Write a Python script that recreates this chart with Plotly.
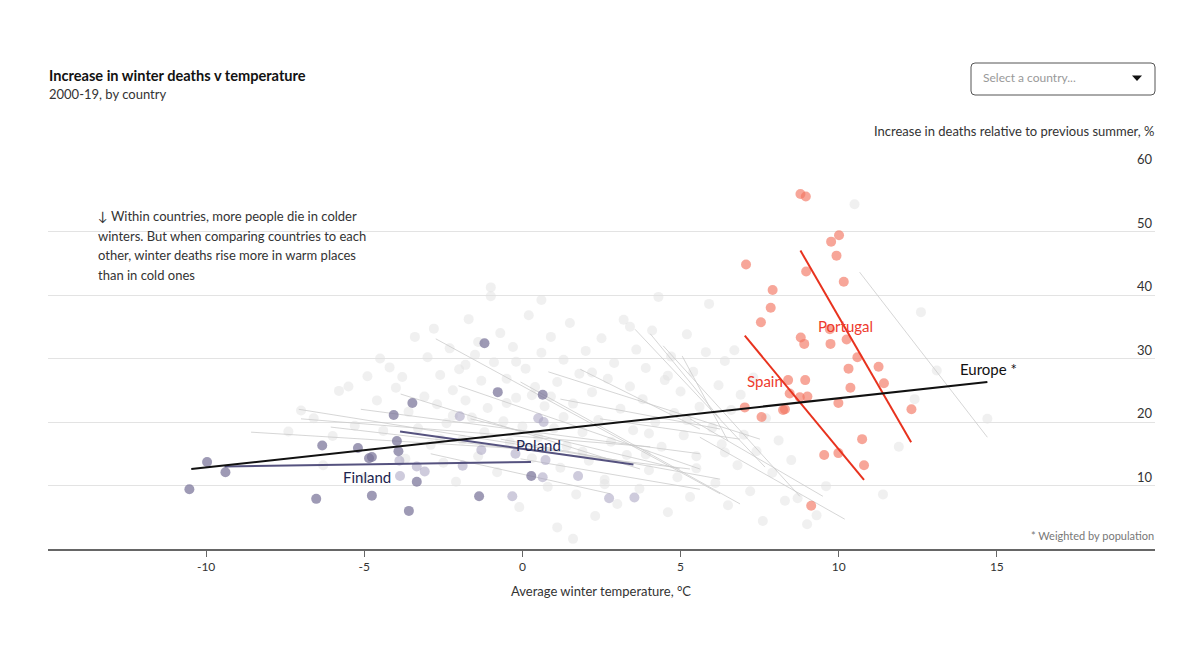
import plotly.graph_objects as go

# ---------------- data ----------------
x_ticks = [-10, -5, 0, 5, 10, 15]
y_ticks = [10, 20, 30, 40, 50, 60]

gray_x = [-7.0, -6.6, -6.3, -6.0, -5.8, -5.5, -5.3, -5.0, -4.9, -4.6, -4.4, -4.2, -4.0, -3.8, -3.6, -3.4,
          -3.3, -3.1, -3.0, -2.9, -2.8, -2.7, -2.6, -2.5, -2.4, -2.3, -2.2, -2.1, -2.0, -1.9, -1.8, -1.7,
          -1.6, -1.5, -1.4, -1.3, -1.2, -1.1, -1.0, -1.0, -0.9, -0.8, -0.7, -0.6, -0.5, -0.4, -0.3, -0.2,
          -0.1, 0.0, 0.1, 0.2, 0.3, 0.4, 0.5, 0.6, 0.6, 0.7, 0.8, 0.9, 1.0, 1.1, 1.1, 1.2, 1.3, 1.4,
          1.5, 1.6, 1.6, 1.7, 1.8, 1.9, 2.0, 2.1, 2.2, 2.3, 2.4, 2.5, 2.6, 2.7, 2.8, 2.9, 3.0, 3.1,
          3.2, 3.3, 3.4, 3.5, 3.6, 3.7, 3.8, 3.9, 4.0, 4.1, 4.2, 4.3, 4.4, 4.5, 4.6, 4.7, 4.8, 4.9,
          5.0, 5.1, 5.2, 5.3, 5.4, 5.5, 5.6, 5.8, 5.9, 6.0, 6.1, 6.2, 6.3, 6.4, 6.5, 6.6, 6.7, 6.8,
          6.9, 7.0, 7.2, 7.3, 7.4, 7.6, 7.7, 7.9, 8.1, 8.3, 8.5, 8.7, 9.0, 9.3, 9.6, 10.5, 12.6, 12.4,
          14.7, 11.4, 13.1, 11.9, -7.4, -4.5, -3.7, -2.2, -1.4, 0.3, 1.9, 2.6, 3.4, 4.6, 5.5, -0.5,
          1.3, 2.2, 3.9, -1.8, 0.9, 4.0, 5.2, 6.4, -2.6, -0.2]
gray_y = [21.8, 20.6, 13.2, 17.8, 24.9, 25.6, 19.4, 11.2, 27.2, 23.4, 18.6, 28.6, 25.4, 27.1, 21.6, 33.4,
          19.0, 24.0, 30.2, 16.4, 34.7, 22.8, 27.4, 13.6, 19.8, 31.6, 25.0, 10.6, 28.3, 17.2, 23.4, 36.2,
          20.7, 30.6, 14.6, 26.5, 18.4, 22.2, 41.2, 39.8, 29.4, 12.1, 34.0, 20.1, 26.8, 16.8, 31.8, 23.8,
          6.6, 19.3, 28.4, 36.8, 14.3, 25.5, 17.6, 39.2, 30.9, 22.5, 9.8, 33.4, 19.0, 3.4, 26.3, 12.8, 29.8, 16.2,
          35.6, 1.6, 22.9, 8.6, 27.6, 18.4, 31.2, 13.9, 24.7, 5.2, 20.3, 33.2, 10.9, 26.8, 16.9, 29.3, 7.1, 22.1,
          36.1, 14.8, 25.6, 18.7, 31.4, 9.5, 23.6, 28.5, 12.4, 34.4, 20.0, 39.7, 16.1, 26.6, 5.8, 30.3, 21.4, 11.3,
          24.8, 17.9, 33.8, 8.2, 27.9, 14.6, 22.4, 31.0, 38.6, 19.1, 10.4, 25.8, 16.5, 29.6, 6.9, 21.9, 31.3, 13.2,
          24.3, 18.0, 9.1, 27.0, 15.4, 4.4, 20.6, 12.0, 17.1, 7.6, 14.0, 8.0, 3.9, 5.3, 9.9, 54.3, 37.3, 23.6,
          20.5, 8.6, 28.1, 16.1, 18.5, 30.0, 14.2, 21.0, 32.6, 24.2, 15.3, 10.2, 35.0, 27.3, 12.7, 23.0,
          20.8, 27.8, 14.9, 29.0, 24.0, 18.2, 20.3, 15.2, 17.3, 29.5]

# country fit lines (grey): start temp, start value, end temp, end value
gl_x0 = [-8.58, -7.07, -7.00, -6.06, -5.11, -2.74, -2.02, -0.06, 0.82, 3.56, 4.45, 5.05, 5.61, 5.30,
         10.66, -0.69, -1.64, -3.85, 1.20, 2.46, -0.06, -2.90, 1.83, 4.04]
gl_y0 = [18.4, 22.0, 20.5, 19.2, 22.0, 33.1, 25.7, 26.3, 27.9, 34.6, 32.0, 30.4, 17.6, 20.5,
         43.6, 17.3, 20.5, 24.4, 23.6, 20.5, 14.2, 15.0, 28.3, 33.9]
gl_x1 = [1.20, 3.09, 4.04, 5.30, 5.61, 6.25, 5.61, 6.88, 7.51, 7.67, 8.77, 6.50, 10.19, 9.50,
         14.70, 6.25, 4.98, 3.72, 6.25, 6.88, 5.61, 2.78, 5.61, 6.25]
gl_y1 = [15.4, 13.9, 16.1, 12.6, 15.0, 8.7, 12.6, 7.1, 17.3, 12.9, 8.3, 17.0, 4.7, 8.3,
         17.6, 11.0, 12.6, 12.6, 18.9, 17.3, 9.4, 8.7, 18.9, 20.5]

portugal_x = [8.79, 8.96, 10.01, 9.76, 9.93, 8.97, 10.16, 9.72, 9.74, 10.25, 10.59, 11.26, 10.31, 11.43,
              10.37, 9.99, 12.30, 10.74, 10.80, 9.99]
portugal_y = [55.9, 55.5, 49.4, 48.4, 46.2, 43.7, 42.1, 34.6, 32.3, 33.0, 30.2, 28.7, 28.4, 26.1,
              25.4, 23.0, 22.0, 17.3, 13.2, 15.1]
portugal_fit_x = [8.79, 12.29]
portugal_fit_y = [47.0, 16.8]

spain_x = [7.07, 7.91, 7.85, 7.54, 8.80, 8.91, 8.94, 8.40, 8.45, 8.77, 9.01, 7.03, 8.30, 8.24, 7.56, 9.54, 9.13]
spain_y = [44.8, 40.8, 38.0, 35.7, 33.3, 32.3, 26.6, 26.6, 24.5, 23.9, 24.0, 22.3, 22.0, 21.9, 20.8, 14.8, 6.8]
spain_fit_x = [7.03, 10.80]
spain_fit_y = [33.6, 10.9]

finland_x = [-10.53, -9.97, -9.39, -6.52, -6.33, -5.20, -4.85, -4.76, -4.76, -4.07, -3.48, -3.59, -3.34,
             -1.20, -0.78, -1.37, 0.28, 0.64, -3.97, -3.92]
finland_y = [9.4, 13.7, 12.1, 7.9, 16.3, 15.9, 14.3, 14.5, 8.4, 21.1, 23.0, 6.0, 10.6,
             32.4, 24.7, 8.3, 11.5, 24.3, 17.0, 15.4]
finland_fit_x = [-9.42, 0.27]
finland_fit_y = [13.0, 13.7]

poland_x = [-3.87, -3.89, -3.34, -3.09, -1.98, -1.89, -1.30, -0.32, -0.22, 0.50, 0.67, 0.73, 0.64, 1.76, 2.74, 3.54]
poland_y = [11.5, 13.9, 13.0, 12.2, 20.9, 13.1, 15.6, 8.3, 15.0, 20.6, 20.0, 14.0, 11.3, 11.5, 8.0, 8.1]
poland_fit_x = [-3.87, 3.51]
poland_fit_y = [18.5, 13.3]

europe_fit_x = [-10.47, 14.70]
europe_fit_y = [12.6, 26.3]

# ---------------- layout helpers ----------------
W, H = 1200, 659
OFF = 8  # page body margin: figure is drawn 8px right/down in the window
# plot area in window pixels: x 48..1155, y 168..549
ML, MT = 48 - OFF, 168 - OFF
MR, MB = W - (1155 - OFF), H - (549 - OFF)
PW, PH = W - ML - MR, H - MT - MB
FONT = "Lato"


def pxx(x):
    return (x - OFF - ML) / PW


def pyy(y):
    return (H - MB - (y - OFF)) / PH


fig = go.Figure()

# grey background dots
fig.add_trace(go.Scatter(x=gray_x, y=gray_y, mode="markers",
                         marker=dict(size=10, color="rgba(226,226,226,0.5)", line=dict(width=0)),
                         hoverinfo="skip", cliponaxis=False))

# grey country lines
lx, ly = [], []
for a, b, c, d in zip(gl_x0, gl_y0, gl_x1, gl_y1):
    lx += [a, c, None]
    ly += [b, d, None]
fig.add_trace(go.Scatter(x=lx, y=ly, mode="lines", line=dict(color="rgba(200,200,200,0.75)", width=1),
                         hoverinfo="skip"))

# highlighted dots
fig.add_trace(go.Scatter(x=poland_x, y=poland_y, mode="markers",
                         marker=dict(size=10, color="rgba(165,160,192,0.55)", line=dict(width=0)),
                         hoverinfo="skip"))
fig.add_trace(go.Scatter(x=finland_x, y=finland_y, mode="markers",
                         marker=dict(size=10, color="rgba(120,115,152,0.72)", line=dict(width=0)),
                         hoverinfo="skip"))
for xs, ys in [(spain_x, spain_y), (portugal_x, portugal_y)]:
    fig.add_trace(go.Scatter(x=xs, y=ys, mode="markers",
                             marker=dict(size=10, color="rgba(242,118,98,0.65)", line=dict(width=0)),
                             hoverinfo="skip", cliponaxis=False))

# highlighted fit lines
for xs, ys in [(finland_fit_x, finland_fit_y), (poland_fit_x, poland_fit_y)]:
    fig.add_trace(go.Scatter(x=xs, y=ys, mode="lines", line=dict(color="#55527f", width=2), hoverinfo="skip"))
for xs, ys in [(spain_fit_x, spain_fit_y), (portugal_fit_x, portugal_fit_y)]:
    fig.add_trace(go.Scatter(x=xs, y=ys, mode="lines", line=dict(color="#e8321e", width=2), hoverinfo="skip"))
fig.add_trace(go.Scatter(x=europe_fit_x, y=europe_fit_y, mode="lines", line=dict(color="#111111", width=2),
                         hoverinfo="skip"))

ann = []


def txt(x, y, s, size=13, color="#333333", xanchor="left", bold=False):
    ann.append(dict(xref="paper", yref="paper", x=pxx(x), y=pyy(y), text=("<b>%s</b>" % s) if bold else s,
                    showarrow=False, xanchor=xanchor, yanchor="middle",
                    font=dict(family=FONT, size=size, color=color)))


txt(47, 75, "Increase in winter deaths v temperature", 14.6, "#121212", bold=True)
txt(47, 94, "2000-19, by country", 13, "#333333")
txt(1156, 131, "Increase in deaths relative to previous summer, %", 13, "#333333", "right")
txt(601, 591, "Average winter temperature, °C", 13, "#333333", "center")
txt(1156, 535, "* Weighted by population", 11, "#777777", "right")
note = ["↓ Within countries, more people die in colder",
        "winters. But when comparing countries to each",
        "other, winter deaths rise more in warm places",
        "than in cold ones"]
for i, s in enumerate(note):
    txt(96, 216 + i * 19.7, s, 13, "#333333")
txt(981, 78, "Select a country...", 12, "#999999")

# y tick labels above gridlines
for v in y_ticks:
    ann.append(dict(xref="paper", yref="y", x=1.0, y=v, text=str(v), showarrow=False,
                    xanchor="right", yanchor="bottom", yshift=-1,
                    font=dict(family=FONT, size=13, color="#333333")))

# series labels
labels = [("Portugal", 10.20, 35.1, "#ee3b2e"), ("Spain", 7.66, 26.5, "#ee3b2e"),
          ("Finland", -4.92, 11.3, "#1c2550"), ("Poland", 0.52, 16.4, "#1c2550"),
          ("Europe *", 14.72, 28.3, "#111111")]
for s, x, y, c in labels:
    ann.append(dict(xref="x", yref="y", x=x, y=y, text=s, showarrow=False, xanchor="center", yanchor="middle",
                    font=dict(family=FONT, size=15, color=c)))

# dropdown box
x0, x1, y0, y1, r = 971, 1155, 63, 95, 4
rx, ry = r / PW, r / PH
X0, X1, Y0, Y1 = pxx(x0), pxx(x1), pyy(y0), pyy(y1)
path = (f"M {X0+rx},{Y0} L {X1-rx},{Y0} Q {X1},{Y0} {X1},{Y0-ry} L {X1},{Y1+ry} Q {X1},{Y1} {X1-rx},{Y1} "
        f"L {X0+rx},{Y1} Q {X0},{Y1} {X0},{Y1+ry} L {X0},{Y0-ry} Q {X0},{Y0} {X0+rx},{Y0} Z")
shapes = [dict(type="path", xref="paper", yref="paper", path=path, line=dict(color="#555555", width=1),
               fillcolor="white"),
          dict(type="path", xref="paper", yref="paper",
               path=f"M {pxx(1132)},{pyy(75.5)} L {pxx(1142)},{pyy(75.5)} L {pxx(1137)},{pyy(81)} Z",
               line=dict(width=0), fillcolor="#111111")]

fig.update_layout(
    width=W, height=H, margin=dict(l=ML, r=MR, t=MT, b=MB),
    paper_bgcolor="white", plot_bgcolor="white", showlegend=False,
    annotations=ann, shapes=shapes,
    xaxis=dict(range=[-15, 20], tickvals=x_ticks, ticktext=[str(v) for v in x_ticks],
               showgrid=False, zeroline=False, showline=True, linecolor="#666666", linewidth=1.5,
               ticks="outside", ticklen=6, tickcolor="#666666", tickwidth=1,
               tickfont=dict(family=FONT, size=12, color="#333333"), fixedrange=True),
    yaxis=dict(range=[0, 60], tickvals=y_ticks, showticklabels=False, showgrid=True,
               gridcolor="#e3e3e3", gridwidth=1, zeroline=False, showline=False, fixedrange=True),
    font=dict(family=FONT),
)

fig.write_html("out.html")
